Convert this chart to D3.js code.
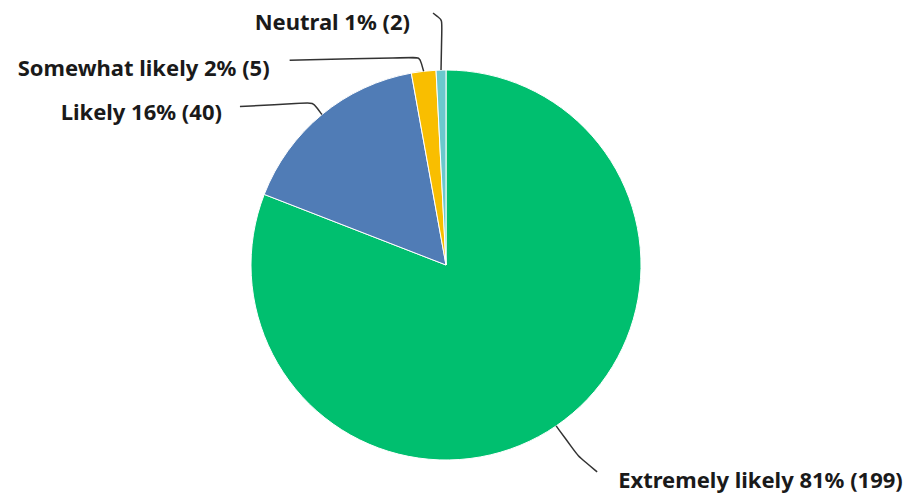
<!DOCTYPE html>
<html>
<head>
<meta charset="utf-8">
<script src="https://cdn.jsdelivr.net/npm/d3@7"></script>
<style>
  body { margin:0; background:#fff; }
  .lbl { font-family:"Noto Sans", "Open Sans", sans-serif; font-weight:700; font-size:22px; fill:#1a1a1a; }
</style>
</head>
<body>
<div class="canvas"></div>
<script>
const categories = ['Extremely likely', 'Likely', 'Somewhat likely', 'Neutral'];
const counts = [199, 40, 5, 2];
const percents = ['81%', '16%', '2%', '1%'];
const colours = ['#00bf6f', '#507cb6', '#f9be00', '#6bc8cd'];

const dim = { width:912, height:499, radius:195 };
const cent = { x:446, y:265 };

// label layout: elbow offset from slice edge, end offset from elbow, text offset from end
const layout = [
    { elbow:[22, 30], end:[19, 16], text:[21, 8], side:'start' },
    { elbow:[-9, -12], end:[-73, 4], text:[-18, 6], side:'end' },
    { elbow:[-4, -14], end:[-130, 3], text:[-20, 8], side:'end' },
    { elbow:[1, -50], end:[-9, -7], text:[-23, 9], side:'end' }
];

const data = categories.map((c,i)=>({ name:c, count:counts[i], pct:percents[i] }));

const svg = d3.select('.canvas')
    .append('svg')
    .attr('width',dim.width)
    .attr('height',dim.height);

const graph = svg.append('g')
    .attr('transform',`translate(${cent.x},${cent.y})`);

const pie = d3.pie()
    .sort(null)
    .value(d=>d.count);

const arcPath = d3.arc()
    .outerRadius(dim.radius)
    .innerRadius(0);

const colour = d3.scaleOrdinal().domain(categories).range(colours);

const angles = pie(data);

graph.selectAll('path.arc')
    .data(angles)
    .enter()
    .append('path')
    .attr('class','arc')
    .attr('d',arcPath)
    .attr('fill',d=>colour(d.data.name))
    .attr('stroke','#fff')
    .attr('stroke-width',1);

const line = d3.line().curve(d3.curveBasis);

angles.forEach((d,i)=>{
    const a = (d.startAngle+d.endAngle)/2;
    const anchor = [dim.radius*Math.sin(a), -dim.radius*Math.cos(a)];
    const L = layout[i];
    const elbow = [anchor[0]+L.elbow[0], anchor[1]+L.elbow[1]];
    const end = [elbow[0]+L.end[0], elbow[1]+L.end[1]];
    // extra points for a rounded corner at the elbow
    const near = (p, k) => {
        const dx = p[0]-elbow[0], dy = p[1]-elbow[1];
        const t = Math.min(0.4, k/Math.hypot(dx,dy));
        return [elbow[0]+dx*t, elbow[1]+dy*t];
    };
    const p1 = near(anchor, 8), p2 = near(end, 8);
    graph.append('path')
        .attr('d', line([anchor, anchor, p1, elbow, p2, end, end]))
        .attr('fill','none')
        .attr('stroke','#333')
        .attr('stroke-width',1.5);
    graph.append('text')
        .attr('class','lbl')
        .attr('x', end[0] + L.text[0])
        .attr('y', end[1] + L.text[1])
        .attr('dy','0.35em')
        .attr('text-anchor', L.side)
        .text(`${d.data.name} ${d.data.pct} (${d.data.count})`);
});
</script>
</body>
</html>
